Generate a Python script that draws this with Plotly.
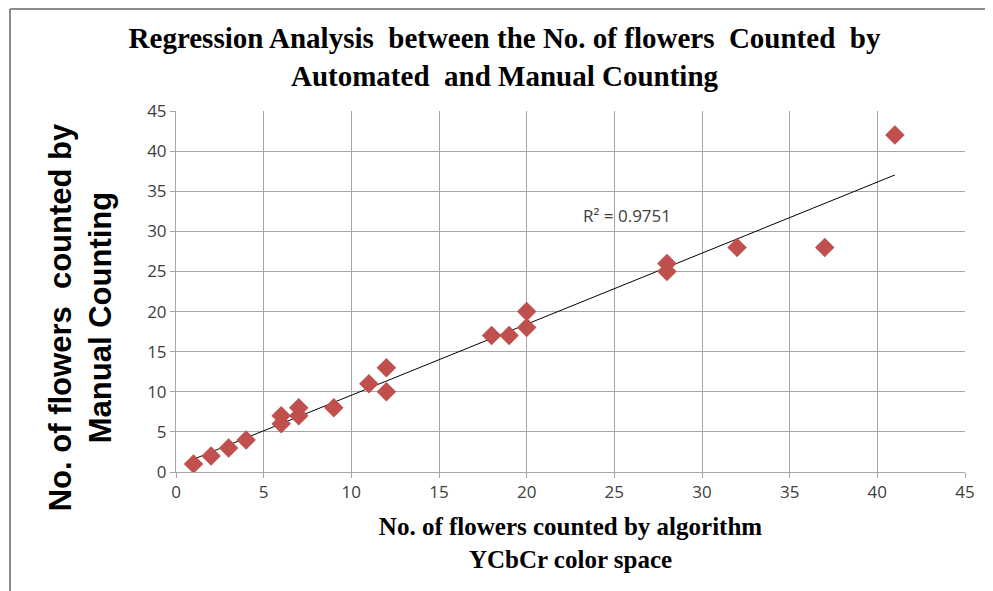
import numpy as np
import plotly.graph_objects as go

# values
algo_counts = [1, 2, 3, 4, 6, 6, 7, 7, 9, 11, 12, 12, 18, 19, 20, 20, 28, 28, 32, 37, 41]
manual_counts = [1, 2, 3, 4, 6, 7, 7, 8, 8, 11, 10, 13, 17, 17, 18, 20, 25, 26, 28, 28, 42]
tick_vals = [0, 5, 10, 15, 20, 25, 30, 35, 40, 45]
r2_label = "R² = 0.9751"

# linear trendline (least squares)
slope, intercept = np.polyfit(algo_counts, manual_counts, 1)
trend_x = [min(algo_counts), max(algo_counts)]
trend_y = [slope * v + intercept for v in trend_x]

fig = go.Figure()

fig.add_trace(go.Scatter(
    x=trend_x, y=trend_y, mode='lines',
    line=dict(color='black', width=1),
    showlegend=False, hoverinfo='skip'
))

fig.add_trace(go.Scatter(
    x=algo_counts, y=manual_counts, mode='markers',
    marker=dict(symbol='diamond', size=15, color='#C0504D', line=dict(width=0)),
    showlegend=False
))

fig.add_annotation(
    x=25.7, y=32, xref='x', yref='y', text=r2_label, showarrow=False,
    font=dict(family='Open Sans', size=17, color='#404040')
)

# y axis title placed as a rotated annotation (sits a bit below plot centre)
fig.add_annotation(
    x=-0.1215, y=0.429, xref='paper', yref='paper',
    text='<b>No. of flowers  counted by<br>Manual Counting</b>',
    textangle=-90, showarrow=False, xanchor='center', yanchor='middle',
    font=dict(family='Liberation Sans', size=31, color='black')
)

axis_common = dict(
    range=[0, 45], tickvals=tick_vals,
    showgrid=True, gridcolor='#A6A6A6', gridwidth=1,
    zeroline=False, showline=True, linecolor='#A6A6A6', linewidth=1,
    ticks='outside', ticklen=5, tickcolor='#A6A6A6',
    tickfont=dict(family='Open Sans', size=17, color='#404040'),
)

fig.update_layout(
    width=993, height=591,
    paper_bgcolor='white', plot_bgcolor='white',
    margin=dict(l=168, r=36, t=103, b=127),
    title=dict(
        text='Regression Analysis  between the No. of flowers  Counted  by<br>Automated  and Manual Counting',
        x=0.5, xanchor='center', y=0.932, yanchor='middle',
        font=dict(family='Liberation Serif', size=29, color='black', weight='bold')
    ),
    xaxis=dict(
        **axis_common,
        title=dict(text='<b>No. of flowers counted by algorithm<br>YCbCr color space</b>',
                   font=dict(family='Liberation Serif', size=25, color='black'),
                   standoff=15)
    ),
    yaxis=dict(**axis_common),
    shapes=[
        dict(type='line', xref='paper', yref='paper',
             x0=-0.2104, x1=1.06, y0=1.2825, y1=1.2825,
             line=dict(color='#8C8C8C', width=2)),
        dict(type='line', xref='paper', yref='paper',
             x0=-0.2104, x1=-0.2104, y0=1.2825, y1=-0.36,
             line=dict(color='#8C8C8C', width=2)),
    ]
)

fig.write_html("out.html")
